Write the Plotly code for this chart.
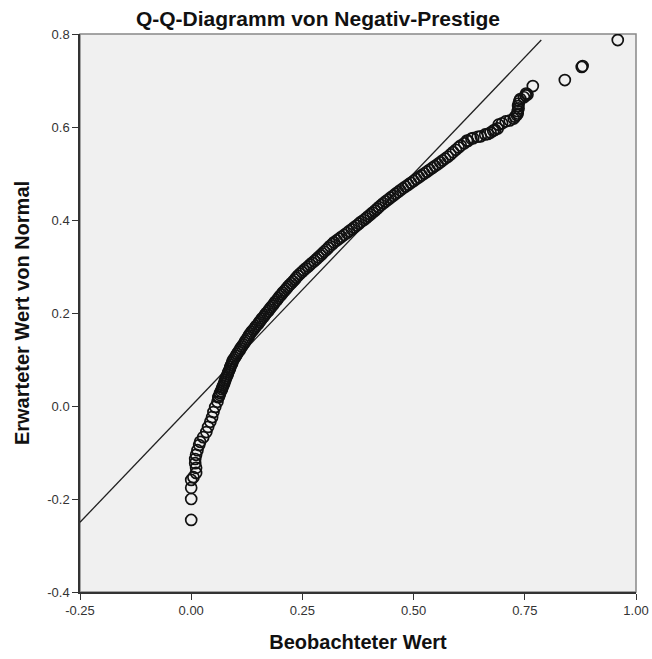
import plotly.graph_objects as go

# Observed values (Beobachteter Wert)
observed = [
    # lower tail
    0.000, 0.000, 0.000, 0.000, 0.005, 0.011, 0.011, 0.009, 0.009, 0.011,
    0.014, 0.018, 0.020, 0.027, 0.034, 0.038, 0.043, 0.047, 0.050, 0.054,
    0.059, 0.061,
    # main body
    0.062, 0.064, 0.065, 0.067, 0.069, 0.070, 0.072, 0.074, 0.075,
    0.077, 0.078, 0.080, 0.082, 0.083, 0.085, 0.087, 0.088, 0.090, 0.092, 0.093,
    0.095, 0.098, 0.101, 0.103, 0.106, 0.109, 0.111, 0.114, 0.117, 0.120,
    0.122, 0.125, 0.128, 0.130, 0.133,
    0.136, 0.140, 0.143, 0.146, 0.150, 0.153, 0.156, 0.159, 0.163, 0.166, 0.169,
    0.173, 0.176, 0.179, 0.183, 0.186, 0.189, 0.193, 0.196, 0.199, 0.203, 0.206,
    0.210, 0.214, 0.217, 0.221, 0.225, 0.229, 0.233, 0.236, 0.240, 0.244,
    0.249, 0.253, 0.258, 0.263, 0.267, 0.272, 0.277, 0.282,
    0.286, 0.291, 0.295, 0.299, 0.304, 0.308, 0.312, 0.317,
    0.321, 0.327, 0.333, 0.338, 0.344, 0.350, 0.355,
    0.361, 0.366, 0.372, 0.377, 0.382, 0.388, 0.393,
    0.398, 0.403, 0.408, 0.413, 0.418, 0.422, 0.427, 0.432,
    0.437, 0.443, 0.448, 0.454, 0.459, 0.465, 0.470,
    0.476, 0.482, 0.488, 0.494, 0.500, 0.506,
    0.512, 0.518, 0.524, 0.530, 0.536, 0.542,
    0.548, 0.554, 0.560, 0.565, 0.571, 0.577,
    0.583, 0.589, 0.595, 0.601, 0.606,
    0.614, 0.622, 0.630,
    # upper tail
    0.620, 0.634, 0.644, 0.651, 0.661, 0.667, 0.673, 0.679, 0.683, 0.689,
    0.691, 0.699, 0.707, 0.716, 0.725, 0.728, 0.732, 0.734, 0.734, 0.735,
    0.736, 0.736, 0.738, 0.740, 0.748, 0.752, 0.753, 0.756, 0.768,
    0.840, 0.878, 0.880, 0.959,
]

# Expected normal values (Erwarteter Wert von Normal)
expected = [
    # lower tail
    -0.245, -0.200, -0.176, -0.159, -0.153, -0.144, -0.133, -0.123, -0.114, -0.105,
    -0.095, -0.084, -0.077, -0.067, -0.056, -0.045, -0.034, -0.024, -0.013, -0.002,
    0.009, 0.019,
    # main body
    0.020, 0.024, 0.028, 0.032, 0.036, 0.040, 0.044, 0.048, 0.052,
    0.056, 0.060, 0.064, 0.068, 0.072, 0.076, 0.080, 0.084, 0.088, 0.092, 0.096,
    0.100, 0.104, 0.108, 0.112, 0.116, 0.120, 0.124, 0.128, 0.132, 0.136,
    0.140, 0.144, 0.148, 0.152, 0.156,
    0.160, 0.164, 0.168, 0.172, 0.176, 0.180, 0.184, 0.188, 0.192, 0.196, 0.200,
    0.204, 0.208, 0.212, 0.216, 0.220, 0.224, 0.228, 0.232, 0.236, 0.240, 0.244,
    0.248, 0.252, 0.256, 0.260, 0.264, 0.268, 0.272, 0.276, 0.280, 0.284,
    0.288, 0.292, 0.296, 0.300, 0.304, 0.308, 0.312, 0.316,
    0.320, 0.324, 0.328, 0.332, 0.336, 0.340, 0.344, 0.348,
    0.352, 0.356, 0.360, 0.364, 0.368, 0.372, 0.376,
    0.380, 0.384, 0.388, 0.392, 0.396, 0.400, 0.404,
    0.408, 0.412, 0.416, 0.420, 0.424, 0.428, 0.432, 0.436,
    0.440, 0.444, 0.448, 0.452, 0.456, 0.460, 0.464,
    0.468, 0.472, 0.476, 0.480, 0.484, 0.488,
    0.492, 0.496, 0.500, 0.504, 0.508, 0.512,
    0.516, 0.520, 0.524, 0.528, 0.532, 0.536,
    0.541, 0.546, 0.551, 0.556, 0.560,
    0.565, 0.570, 0.575,
    # upper tail
    0.571, 0.576, 0.579, 0.580, 0.584, 0.585, 0.588, 0.592, 0.594, 0.597,
    0.605, 0.608, 0.612, 0.614, 0.618, 0.622, 0.626, 0.629, 0.634, 0.645,
    0.640, 0.650, 0.656, 0.660, 0.664, 0.668, 0.672, 0.670, 0.688,
    0.701, 0.729, 0.731, 0.787,
]

# Reference line endpoints (y = x)
ref_line = [-0.25, 0.787]

x_ticks = [-0.25, 0.00, 0.25, 0.50, 0.75, 1.00]
x_tick_labels = ["-0.25", "0.00", "0.25", "0.50", "0.75", "1.00"]
y_ticks = [-0.4, -0.2, 0.0, 0.2, 0.4, 0.6, 0.8]
y_tick_labels = ["-0.4", "-0.2", "0.0", "0.2", "0.4", "0.6", "0.8"]

FONT = "Liberation Sans, Arial, sans-serif"

fig = go.Figure()
fig.add_trace(go.Scatter(
    x=ref_line, y=ref_line, mode="lines",
    line=dict(color="#202020", width=1.3),
    hoverinfo="skip", showlegend=False,
))
fig.add_trace(go.Scatter(
    x=observed, y=expected, mode="markers",
    marker=dict(symbol="circle-open", size=11, color="#111111",
                line=dict(width=1.7, color="#111111")),
    showlegend=False,
))

fig.update_layout(
    width=652, height=659,
    margin=dict(l=80, r=16, t=34, b=67),
    paper_bgcolor="white",
    plot_bgcolor="#f0f0f0",
    font=dict(family=FONT, color="#222222", size=13),
    title=dict(text="<b>Q-Q-Diagramm von Negativ-Prestige</b>",
               x=318 / 652, xanchor="center", y=1 - 19 / 659, yanchor="middle",
               font=dict(size=21, color="#111111", family=FONT)),
    xaxis=dict(
        range=[-0.25, 1.0], tickvals=x_ticks, ticktext=x_tick_labels,
        showgrid=False, zeroline=False, showline=True, linecolor="#333333",
        linewidth=1.5, ticks="outside", ticklen=6, tickcolor="#333333",
        tickfont=dict(size=13, color="#333333"), automargin=False,
        title=dict(text="<b>Beobachteter Wert</b>", standoff=18,
                   font=dict(size=20, color="#111111")),
    ),
    yaxis=dict(
        range=[-0.4, 0.8], tickvals=y_ticks, ticktext=y_tick_labels,
        showgrid=False, zeroline=False, showline=True, linecolor="#333333",
        linewidth=1.5, ticks="outside", ticklen=6, tickcolor="#333333",
        tickfont=dict(size=13, color="#333333"), automargin=False,
        title=dict(text="<b>Erwarteter Wert von Normal</b>", standoff=12,
                   font=dict(size=20, color="#111111")),
    ),
    shapes=[dict(type="rect", xref="paper", yref="paper", x0=0, y0=0, x1=1, y1=1,
                 line=dict(color="#888888", width=1.5), layer="below")],
)

fig.write_html(
    "out.html",
    config={"displayModeBar": False},
    post_script="document.body.style.margin='0';document.body.style.padding='0';",
)
